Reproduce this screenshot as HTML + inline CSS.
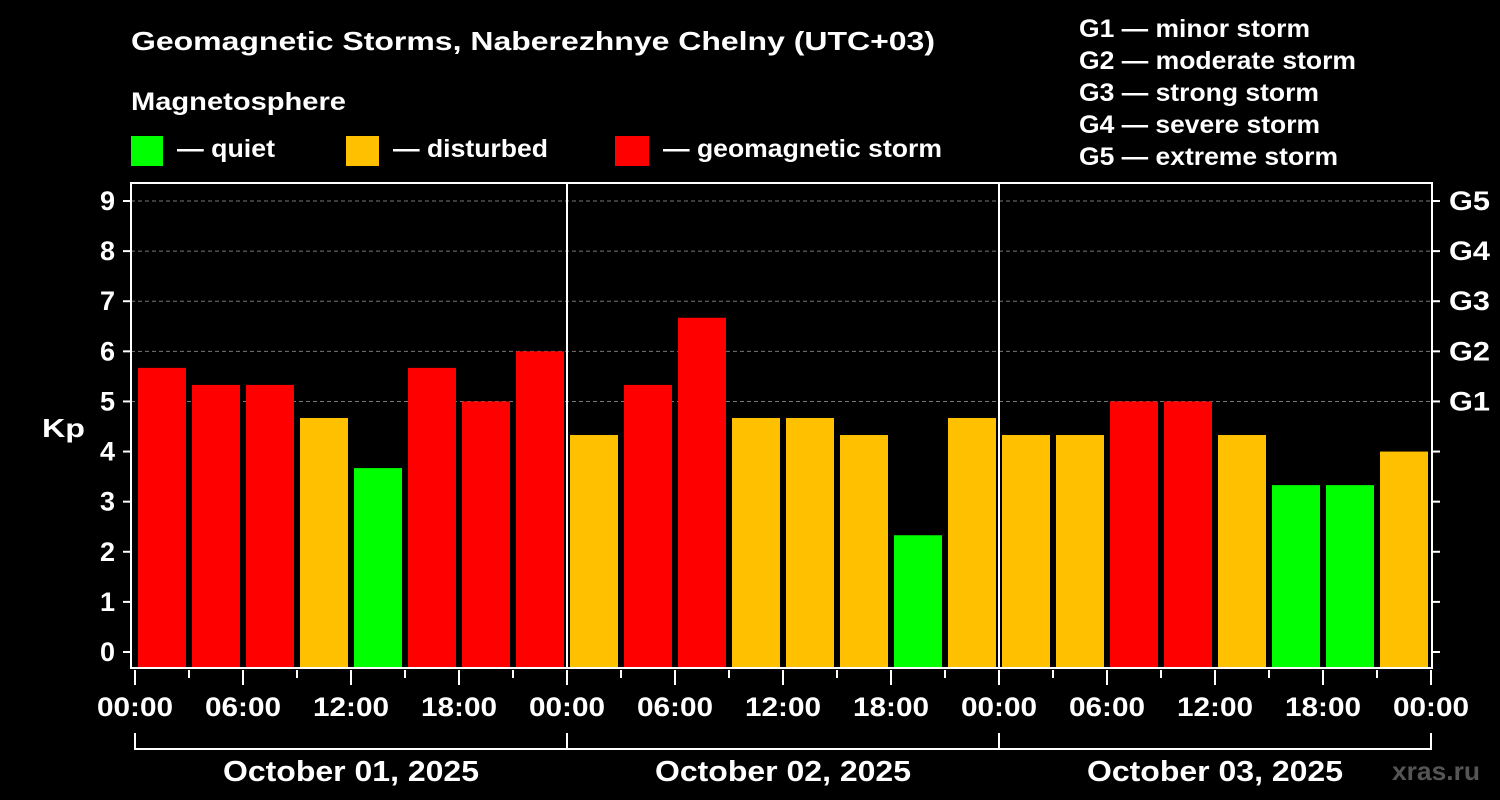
<!DOCTYPE html>
<html><head><meta charset="utf-8"><style>
html,body{margin:0;padding:0;background:#000;}
svg{display:block;font-family:"Liberation Sans",Arial,sans-serif;font-weight:bold;}
</style></head><body>
<svg id="chart" width="1500" height="800" viewBox="0 0 1500 800">
<rect width="1500" height="800" fill="#000"/>
<text x="131" y="50" fill="#fff" font-size="26" textLength="804" lengthAdjust="spacingAndGlyphs">Geomagnetic Storms, Naberezhnye Chelny (UTC+03)</text>
<text x="131" y="110" fill="#fff" font-size="25" textLength="215" lengthAdjust="spacingAndGlyphs">Magnetosphere</text>
<g><rect x="131" y="136" width="32" height="30" fill="#00ff00"/><text x="177" y="157" fill="#fff" font-size="25" textLength="98" lengthAdjust="spacingAndGlyphs">— quiet</text></g>
<g><rect x="346" y="136" width="33" height="30" fill="#ffc000"/><text x="393" y="157" fill="#fff" font-size="25" textLength="155" lengthAdjust="spacingAndGlyphs">— disturbed</text></g>
<g><rect x="615" y="136" width="34" height="30" fill="#ff0000"/><text x="663" y="157" fill="#fff" font-size="25" textLength="279" lengthAdjust="spacingAndGlyphs">— geomagnetic storm</text></g>
<g fill="#fff" font-size="25">
<text x="1079" y="37" textLength="231" lengthAdjust="spacingAndGlyphs">G1 — minor storm</text>
<text x="1079" y="69" textLength="277" lengthAdjust="spacingAndGlyphs">G2 — moderate storm</text>
<text x="1079" y="101" textLength="240" lengthAdjust="spacingAndGlyphs">G3 — strong storm</text>
<text x="1079" y="133" textLength="241" lengthAdjust="spacingAndGlyphs">G4 — severe storm</text>
<text x="1079" y="165" textLength="259" lengthAdjust="spacingAndGlyphs">G5 — extreme storm</text>
</g>
<text x="42" y="437" fill="#fff" font-size="26" textLength="43" lengthAdjust="spacingAndGlyphs">Kp</text>
<text x="1392" y="780" fill="#555" font-size="26" textLength="88" lengthAdjust="spacingAndGlyphs">xras.ru</text>
<g id="grid"></g><g id="bars"></g><g id="axes"></g>
</svg>
<script>
const kpValues=[5.67,5.33,5.33,4.67,3.67,5.67,5.0,6.0, 4.33,5.33,6.67,4.67,4.67,4.33,2.33,4.67, 4.33,4.33,5.0,5.0,4.33,3.33,3.33,4.0];
const dayLabels=["October 01, 2025","October 02, 2025","October 03, 2025"];
const hourLabels=["00:00","06:00","12:00","18:00"];
const yTicks=[0,1,2,3,4,5,6,7,8,9];
const gLabels=["G1","G2","G3","G4","G5"];
const NS="http://www.w3.org/2000/svg";
const X0=135, DAY=432, Y0=652, UNIT=50.11, PB=668, PL=131, PT=183, PR=1432;
const xs=h=>X0+h/24*DAY; const ys=v=>Y0-v*UNIT;
function mk(t,a,p){const e=document.createElementNS(NS,t);for(const k in a)e.setAttribute(k,a[k]);p.appendChild(e);return e;}
const grid=document.getElementById('grid'),bars=document.getElementById('bars'),axes=document.getElementById('axes');
yTicks.forEach(v=>{if(v>=5){const l=mk('line',{x1:PL,x2:PR,y1:ys(v),y2:ys(v),stroke:'#777','stroke-dasharray':'4,3','stroke-width':1},grid);

}
const t=mk('text',{x:115,y:ys(v)+9,fill:'#fff','font-size':27,'text-anchor':'end'},axes);t.textContent=v;


mk('line',{x1:PL-8,x2:PL,y1:ys(v),y2:ys(v),stroke:'#fff','stroke-width':2},axes);
mk('line',{x1:PR,x2:PR+8,y1:ys(v),y2:ys(v),stroke:'#fff','stroke-width':2},axes);});
gLabels.forEach((g,i)=>{const t=mk('text',{x:1449,y:ys(i+5)+9,fill:'#fff','font-size':27,textLength:41,lengthAdjust:'spacingAndGlyphs'},axes);t.textContent=g;

});
kpValues.forEach((v,i)=>{const c=v>=5?'#ff0000':(v>=4?'#ffc000':'#00ff00');
const r=mk('rect',{x:xs(i*3)+3,y:ys(v),width:xs(3)-xs(0)-6,height:PB-ys(v),fill:c},bars);

});
mk('rect',{x:PL,y:PT,width:PR-PL,height:PB-PT,fill:'none',stroke:'#fff','stroke-width':2},axes);
for(let d=1;d<3;d++)mk('line',{x1:xs(d*24),x2:xs(d*24),y1:PT,y2:PB,stroke:'#fff','stroke-width':2},axes);
for(let h=0;h<=72;h+=3){const major=h%6==0;mk('line',{x1:xs(h),x2:xs(h),y1:670,y2:major?685:678,stroke:'#fff','stroke-width':2},axes);
if(major){const t=mk('text',{x:xs(h)-38,y:716,fill:'#fff','font-size':27,textLength:76,lengthAdjust:'spacingAndGlyphs'},axes);t.textContent=hourLabels[(h/6)%4];

}}
mk('line',{x1:xs(0),x2:xs(72),y1:749,y2:749,stroke:'#fff','stroke-width':2},axes);
for(let d=0;d<=3;d++)mk('line',{x1:xs(d*24),x2:xs(d*24),y1:733,y2:750,stroke:'#fff','stroke-width':2},axes);
dayLabels.forEach((s,d)=>{const t=mk('text',{x:xs(d*24+12)-128,y:781,fill:'#fff','font-size':29,textLength:256,lengthAdjust:'spacingAndGlyphs'},axes);t.textContent=s;

});
</script>
</body></html>
